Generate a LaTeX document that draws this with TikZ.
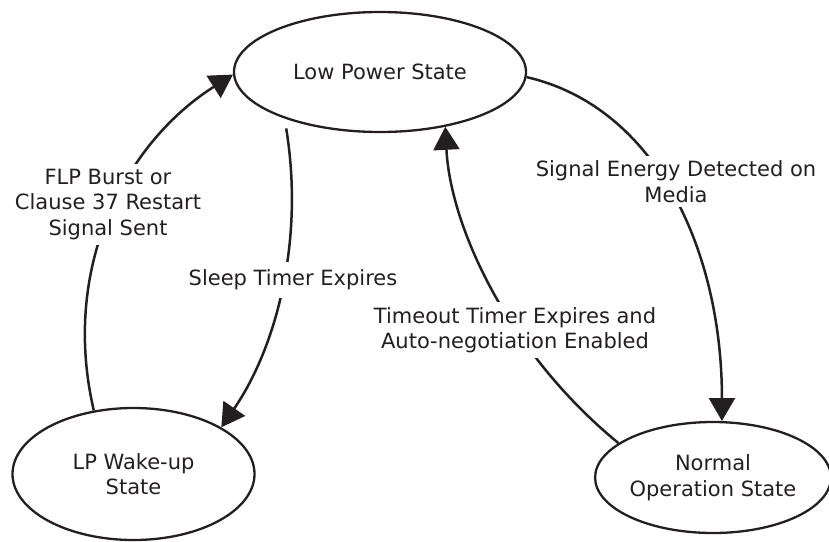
\documentclass[tikz,border=0pt]{standalone}
\usepackage{fontspec}
\setmainfont{DejaVu Sans}
\usetikzlibrary{arrows.meta,shapes.geometric}
\definecolor{ink}{HTML}{231F20}
\begin{document}
\begin{tikzpicture}[x=1pt,y=-1pt,
  every node/.style={font=\fontsize{21}{25.5}\selectfont, text=ink},
  state/.style={draw=ink, line width=2.3pt, ellipse, inner sep=0pt, align=center},
  lbl/.style={fill=white, inner sep=5pt, align=center},
  arr/.style={draw=ink, line width=2.5pt, -{Triangle[length=23pt,width=26pt]}}]
\useasboundingbox (0,0) rectangle (829,541);
\node[state, minimum width=292pt, minimum height=120pt] (lps) at (380,72) {Low Power State};
\node[state, minimum width=242pt, minimum height=132pt] (lpw) at (133.5,474) {LP Wake-up\\State};
\node[state, minimum width=231pt, minimum height=111pt] (nos) at (713,477.5) {Normal\\Operation State};
\draw[arr] (lpw.122) .. controls +(-33,-141) and +(-110,70) .. (lps.181);
\draw[arr, shorten <=10pt] (lps.206) .. controls +(20,122) and +(55,-80) .. (lpw.28);
\draw[arr] (lps.-2) .. controls +(130,30) and +(0,-170) .. (nos.81);
\draw[arr] (nos.160) .. controls +(-110,-90) and +(5,100) .. (lps.-40);
\node[lbl] (l1) at (108,204.5) {FLP Burst or\\Clause 37 Restart\\Signal Sent};
\node[lbl, inner ysep=8pt] (l2) at (293,280) {Sleep Timer Expires};
\node[lbl] (l3) at (676,181.5) {Signal Energy Detected on\\Media};
\node[lbl] (l4) at (515,330) {Timeout Timer Expires and\\Auto-negotiation Enabled};
\end{tikzpicture}
\end{document}
